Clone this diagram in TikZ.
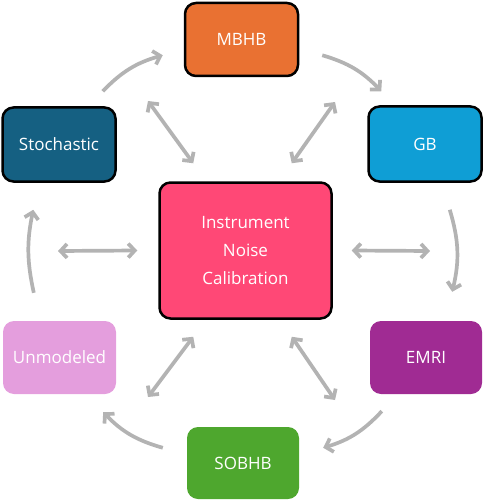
\documentclass[tikz,border=0pt]{standalone}
\usepackage{fontspec}
\setmainfont{Open Sans}
\usetikzlibrary{arrows.meta}

\definecolor{mbhbcol}{HTML}{E97132}
\definecolor{stochcol}{HTML}{156082}
\definecolor{gbcol}{HTML}{0F9ED5}
\definecolor{instcol}{HTML}{FF4876}
\definecolor{unmodcol}{HTML}{E49EDD}
\definecolor{emricol}{HTML}{A02B93}
\definecolor{sobhbcol}{HTML}{4EA72E}
\definecolor{arrowgray}{HTML}{B3B3B3}

\begin{document}
\begin{tikzpicture}[x=1pt,y=-1pt,
	box/.style={rounded corners=11pt,text=white,align=center,
		minimum width=113pt,minimum height=73pt,
		font=\fontsize{17}{28}\selectfont},
	framed/.style={draw=black,line width=2.5pt},
	flow/.style={draw=arrowgray,line width=3.7pt,
		-{Straight Barb[length=6.5pt,width=14pt]}},
	swap/.style={draw=arrowgray,line width=3.7pt,
		{Straight Barb[length=6.5pt,width=14pt]}-{Straight Barb[length=6.5pt,width=14pt]}}]
	
	%\draw[help lines] (0,0) grid (485,500);
	\useasboundingbox (0,0) rectangle (485,500);
	
	% sources round the ring
	\node[box,framed,fill=mbhbcol] (mbhb) at (241.5,39.5) {MBHB};
	\node[box,framed,fill=stochcol,minimum height=74pt] (stoch) at (59,144.5) {Stochastic};
	\node[box,framed,fill=gbcol,minimum height=75pt] (gb) at (425,144) {GB};
	\node[box,fill=unmodcol] (unmod) at (59.5,357.5) {Unmodeled};
	\node[box,fill=emricol,minimum width=112pt] (emri) at (426,357.5) {EMRI};
	\node[box,fill=sobhbcol,minimum width=112pt,minimum height=72pt] (sobhb) at (243,463) {SOBHB};
	
	% middle
	\node[box,framed,fill=instcol,minimum width=172pt,minimum height=136pt] (inst) at (245.5,250.5) {Instrument\\Noise\\Calibration};
	
	% the cycle
	\draw[flow] ([shift={(-14,-15)}]stoch.north east) to[bend left=15] ([shift={(-21,-22)}]mbhb.south west);
	\draw[flow] ([shift={(23,-22)}]mbhb.south east) to[bend left=15] ([shift={(14,-14)}]gb.north west);
	\draw[flow] ([shift={(-33,27)}]gb.south east) to[bend left=15] ([shift={(-30,-29)}]emri.north east);
	\draw[flow] ([shift={(12,17)}]emri.south west) to[bend left=15] ([shift={(24,21)}]sobhb.north east);
	\draw[flow] ([shift={(-24,21)}]sobhb.north west) to[bend left=15] ([shift={(-13,18)}]unmod.south east);
	\draw[flow] ([shift={(31,-28)}]unmod.north west) to[bend left=12] ([shift={(32,27)}]stoch.south west);
	
	% links to the middle
	\coordinate (westgap) at (58,251);
	\coordinate (eastgap) at (430,251);
	\coordinate (nwgap) at (148,101);
	\coordinate (negap) at (335,102);
	\coordinate (swgap) at (148,397);
	\coordinate (segap) at (335,400);
	
	\draw[swap] (westgap) -- ([xshift=-21pt]inst.west);
	\draw[swap] (eastgap) -- ([xshift=19pt]inst.east);
	\draw[swap] (nwgap) -- ([shift={(35,-18)}]inst.north west);
	\draw[swap] (negap) -- ([shift={(-41,-18)}]inst.north east);
	\draw[swap] (swgap) -- ([shift={(35,17)}]inst.south west);
	\draw[swap] (segap) -- ([shift={(-41,17)}]inst.south east);
	
\end{tikzpicture}
\end{document}
